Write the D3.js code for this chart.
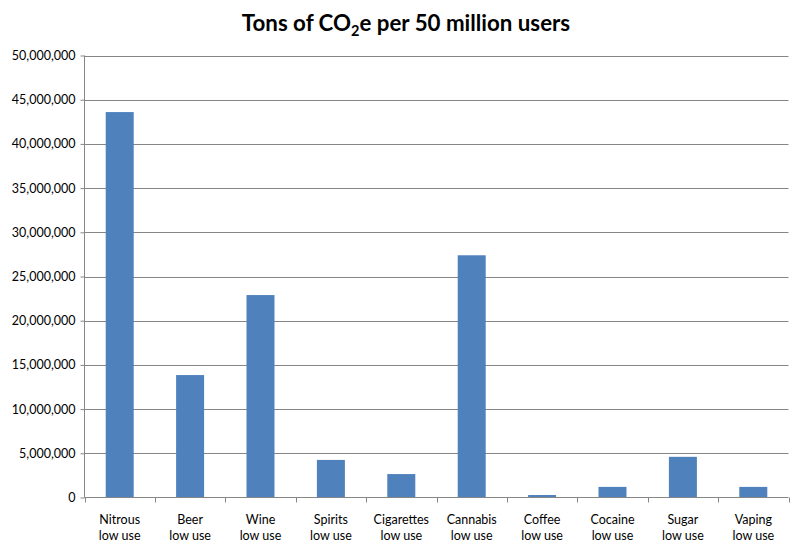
<!DOCTYPE html>
<html><head><meta charset="utf-8">
<script src="https://cdn.jsdelivr.net/npm/d3@7"></script>
<style>body{margin:0;background:#fff}</style>
</head><body>
<script>
const categories = ["Nitrous|low use","Beer|low use","Wine|low use","Spirits|low use","Cigarettes|low use","Cannabis|low use","Coffee|low use","Cocaine|low use","Sugar|low use","Vaping|low use"];
const values = [43600000,13850000,22900000,4250000,2650000,27400000,280000,1200000,4600000,1200000];
const yTicks = [0,5000000,10000000,15000000,20000000,25000000,30000000,35000000,40000000,45000000,50000000];

const W=800,H=550, L=84.5, R=788.5, T=55.5, B=497.5;
const font = "Lato, 'Open Sans', 'DejaVu Sans', sans-serif";
const svg = d3.select("body").append("svg").attr("width",W).attr("height",H);

const xb = d3.scaleBand().domain(categories).range([L,R]);
const y = d3.scaleLinear().domain([0,50000000]).range([B,T]);

// gridlines
svg.append("g").selectAll("line").data(yTicks.filter(d=>d>0)).join("line")
  .attr("x1",L).attr("x2",R).attr("y1",d=>Math.round(y(d))+0.5).attr("y2",d=>Math.round(y(d))+0.5)
  .attr("stroke","#868686").attr("stroke-width",1);

// bars
svg.append("g").selectAll("rect").data(values).join("rect")
  .attr("x",(d,i)=>xb(categories[i])+xb.bandwidth()/2-14)
  .attr("width",28)
  .attr("y",d=>y(d)).attr("height",d=>B-y(d))
  .attr("fill","#4f81bd");

// y axis
const ya = svg.append("g").attr("transform",`translate(${L},0)`)
  .call(d3.axisLeft(y).tickValues(yTicks).tickSize(4).tickFormat(d3.format(",")));
ya.select(".domain").attr("stroke","#868686").attr("d",`M0,${T}V${B}`);
ya.selectAll(".tick line").attr("stroke","#868686");
ya.selectAll(".tick text").attr("font-family",font).attr("font-size",12.5).attr("fill","#000").attr("x",-9);

// x axis
const xa = svg.append("g").attr("transform",`translate(0,${B})`)
  .call(d3.axisBottom(xb).tickSize(0).tickFormat(""));
xa.select(".domain").attr("stroke","#868686").attr("d",`M${L},0H${R}`);
const edges = categories.map(c=>xb(c)).concat([R]);
xa.selectAll("line.edge").data(edges).join("line").attr("class","edge")
  .attr("x1",d=>Math.round(d)+0.5).attr("x2",d=>Math.round(d)+0.5).attr("y1",0).attr("y2",5).attr("stroke","#868686");
xa.selectAll(".tick").each(function(d){
  const t = d3.select(this).append("text").attr("font-family",font).attr("font-size",12.5)
    .attr("fill","#000").attr("text-anchor","middle");
  d.split("|").forEach((s,i)=>t.append("tspan").attr("x",0).attr("y",26+i*16).text(s));
});

// title
const title = svg.append("text").attr("x",406).attr("y",31).attr("text-anchor","middle")
  .attr("font-family",font).attr("font-weight","bold").attr("font-size",22.3).attr("fill","#000");
title.append("tspan").text("Tons of CO");
title.append("tspan").attr("font-size",14.5).attr("dy",5).text("2");
title.append("tspan").attr("dy",-5).text("e per 50 million users");
</script>
</body></html>
